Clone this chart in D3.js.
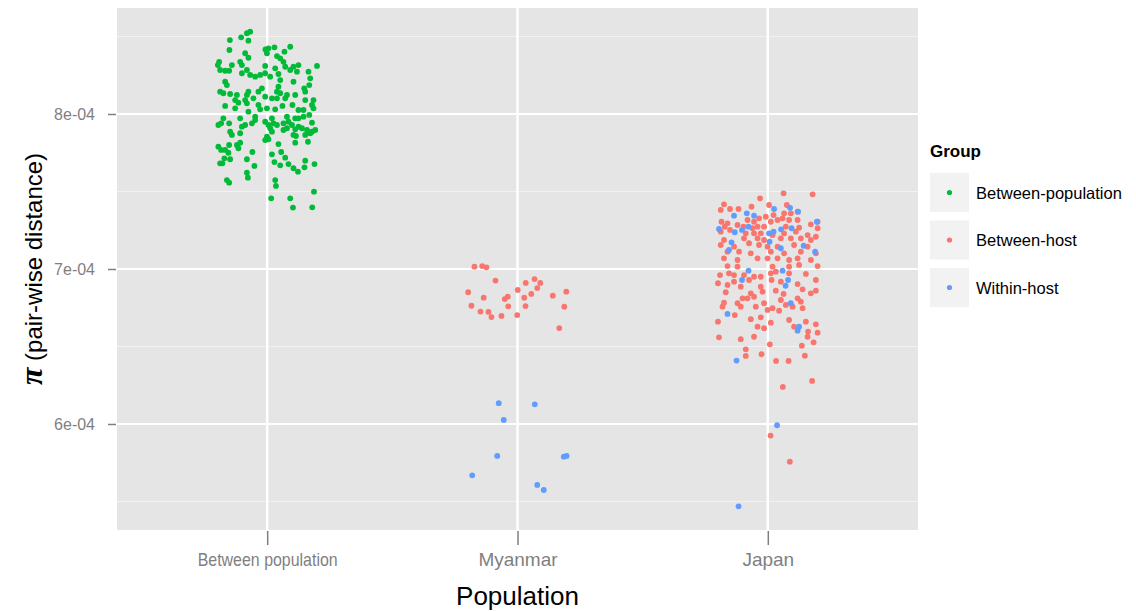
<!DOCTYPE html>
<html>
<head>
<meta charset="utf-8">
<script src="https://cdn.jsdelivr.net/npm/d3@7/dist/d3.min.js"></script>
<style>
  html, body { margin: 0; padding: 0; background: #ffffff; }
  svg { display: block; }
</style>
</head>
<body>
<svg id="chart" width="1136" height="611"></svg>
<script>
// Population categories on the x axis and the colour groups
const populations = ["Between population", "Myanmar", "Japan"];
const groups = ["Between-population", "Between-host", "Within-host"];
const groupColors = ["#00BA38", "#F8766D", "#619CFF"];
const yTicks = [6e-4, 7e-4, 8e-4];
const yTickLabels = ["6e-04", "7e-04", "8e-04"];

// Pair-wise distance (pi) in units of 1e-6, with the horizontal jitter of each point (category units)
const betweenPopPi = [
  853.1, 852.1, 849.5, 847.7, 847.3, 841.3, 839.2, 836.3, 841.7, 842.4, 843.0, 843.4, 840.2, 839.2, 837.4, 835.9,
  833.7, 833.7, 831.6, 831.6, 833.7, 831.6, 828.4, 827.9, 827.9, 828.4, 831.0, 829.5, 830.5, 830.5, 831.6, 831.0,
  828.4, 827.3, 827.3, 826.3, 825.2, 824.1, 825.2, 826.3, 825.8, 821.9, 824.1, 820.8, 818.7, 820.8, 823.0, 818.7,
  816.6, 814.4, 813.4, 812.9, 812.3, 814.4, 812.3, 814.4, 816.6, 817.6, 814.4, 813.4, 812.3, 812.3, 814.4, 809.0,
  807.3, 809.0, 806.9, 810.1, 811.2, 810.1, 810.1, 810.1, 809.0, 809.0, 805.2, 803.7, 805.8, 803.0, 803.7, 803.0,
  805.2, 805.8, 802.6, 802.6, 805.8, 803.7, 801.5, 797.2, 797.2, 798.3, 797.2, 798.3, 797.2, 798.3,
  794.0, 792.9, 794.0, 792.9, 791.8, 794.0, 796.1, 795.0, 792.9, 794.0, 792.9, 794.0, 795.0, 792.9, 791.8, 794.4,
  797.2, 799.4, 788.6, 786.5, 787.6, 790.8, 788.6, 789.7, 790.8, 790.1, 790.8, 789.7, 788.6, 789.7, 786.5, 785.8,
  786.5, 787.6, 785.4, 783.7, 783.2, 781.5, 780.0, 780.0, 778.9, 776.8, 776.8, 777.9, 775.0, 781.5, 782.1, 780.6,
  775.5, 774.0, 775.5, 771.8, 771.4, 770.8, 770.8, 768.2, 768.2, 769.0, 766.9, 767.7, 769.9, 767.7, 766.5, 765.0,
  765.6, 762.8, 762.1, 758.9, 757.4, 755.7, 757.4, 753.6, 749.9, 745.6, 745.6, 739.6, 739.8
];
const betweenPopJitter = [
  -0.068, -0.081, -0.104, -0.149, -0.075, -0.151, -0.088, -0.075, -0.007, 0.005, 0.029, 0.092, 0.069, -0.001, 0.039, 0.052,
  0.065, -0.192, -0.197, -0.141, -0.108, -0.101, -0.188, -0.168, -0.152, -0.081, -0.008, 0.032, 0.072, 0.105, 0.125, 0.199,
  0.092, 0.119, 0.165, -0.101, -0.068, -0.048, -0.028, -0.008, 0.045, 0.052, 0.012, -0.168, -0.161, 0.105, 0.172, 0.168,
  0.148, -0.188, -0.175, -0.148, -0.121, -0.075, -0.081, -0.035, -0.021, 0.045, 0.039, 0.052, 0.079, 0.112, 0.152, -0.128,
  -0.115, -0.088, -0.081, -0.055, -0.008, 0.019, 0.039, 0.072, 0.152, 0.185, -0.168, -0.128, -0.035, -0.028, -0.001, 0.032,
  0.061, 0.101, 0.125, 0.145, 0.179, 0.185, -0.075, -0.175, -0.108, -0.048, 0.019, 0.079, 0.112, 0.145,
  -0.184, -0.195, -0.152, -0.088, -0.101, -0.061, -0.048, -0.008, 0.005, 0.025, 0.039, 0.065, 0.085, 0.099, 0.125, 0.179,
  0.125, 0.168, -0.148, -0.141, -0.108, 0.012, 0.019, 0.065, 0.079, 0.112, 0.139, 0.159, 0.179, 0.192, 0.105, 0.115,
  0.152, 0.172, -0.001, 0.005, -0.008, -0.108, -0.121, -0.152, -0.195, -0.184, -0.168, -0.115, -0.155, 0.112, 0.163, 0.045,
  -0.059, 0.019, 0.056, 0.072, -0.171, -0.148, -0.081, -0.188, -0.179, 0.029, 0.052, 0.085, 0.152, 0.189, -0.051, 0.105,
  0.149, 0.123, -0.081, -0.077, -0.161, -0.152, 0.032, 0.035, 0.187, 0.016, 0.092, 0.103, 0.180
];

const myanmarHostPi = [
  701.5, 701.9, 701.1, 692.5, 685.0, 681.5, 676.3, 672.5, 672.3, 669.0, 669.7, 680.6, 682.1, 675.9,
  686.5, 670.3, 681.5, 676.1, 691.0, 683.9, 693.5, 687.7, 691.0, 682.8, 685.4, 675.7, 661.9
];
const myanmarHostJitter = [
  -0.172, -0.141, -0.124, -0.088, -0.197, -0.135, -0.184, -0.148, -0.116, -0.104, -0.064, -0.051, -0.039, -0.037,
  0.001, -0.001, 0.027, 0.032, 0.033, 0.055, 0.068, 0.079, 0.091, 0.141, 0.195, 0.187, 0.167
];
const myanmarWithinPi = [613.4, 602.6, 612.7, 579.4, 566.9, 578.9, 579.4, 560.7, 557.4];
const myanmarWithinJitter = [-0.075, -0.055, 0.069, -0.081, -0.181, 0.185, 0.196, 0.079, 0.105];

const japanHostPi = [
  748.8, 748.2, 745.6, 741.3, 741.3, 741.7, 738.1, 738.7, 738.7, 740.2, 734.8, 737.0, 735.9, 735.9, 732.7, 733.7,
  732.7, 730.5, 731.6, 730.5, 731.6, 731.6, 731.6, 730.5, 728.8, 730.5, 729.5, 727.3, 728.4, 727.3, 726.3, 727.3,
  727.3, 727.3, 726.6, 726.3, 724.1, 725.2, 723.0, 723.0, 723.0, 721.9, 723.0, 724.1, 721.9, 720.8, 718.7, 719.8,
  719.8, 718.7, 719.8, 719.8, 719.8, 718.7, 715.5, 714.4, 716.6, 715.5, 714.4, 714.4, 715.5, 714.4, 711.2, 711.2,
  710.1, 711.2, 710.1, 711.2, 710.1, 706.9, 705.8, 706.9, 706.9, 706.9, 705.8, 706.9, 705.8,
  701.9, 701.5, 701.5, 701.5, 702.6, 701.9, 696.1, 697.2, 696.1, 696.1, 695.0, 695.0, 697.2, 698.3, 697.2, 696.8,
  692.9, 690.8, 689.7, 691.8, 692.9, 688.6, 688.6, 692.9, 691.8, 690.3, 686.9, 686.0, 685.0, 684.3, 685.4, 686.0,
  683.9, 684.3, 681.1, 681.1, 682.1, 680.0, 681.1, 678.3, 677.9, 677.9, 676.8, 678.9, 675.7, 675.7, 675.7, 673.6,
  674.7, 673.1, 675.7, 674.7, 670.3, 667.6, 668.8, 665.4, 667.1, 666.0, 666.0, 662.8, 661.8, 662.8, 664.3, 659.6,
  658.9, 656.3, 655.9, 654.7, 656.3, 651.4, 650.5, 652.7, 648.2, 643.9, 645.0, 640.7, 640.7, 644.1, 627.8, 623.9,
  592.5, 575.7
];
const japanHostJitter = [
  0.063, 0.179, -0.031, 0.076, 0.005, -0.175, -0.188, -0.151, -0.117, -0.065, 0.023, 0.119, 0.065, 0.092, 0.059, -0.008,
  -0.035, -0.055, -0.081, 0.012, 0.039, 0.085, 0.119, 0.199, 0.172, -0.185, -0.161, -0.172, -0.121, -0.097, -0.061, -0.041,
  -0.015, 0.072, 0.125, 0.199, -0.188, -0.151, -0.088, -0.055, -0.028, 0.019, 0.065, 0.112, 0.159, 0.192, -0.175, -0.095,
  -0.041, -0.015, 0.052, 0.092, 0.132, 0.172, -0.188, -0.135, -0.075, -0.035, -0.001, 0.039, 0.105, 0.159, -0.161, -0.115,
  -0.068, 0.012, 0.065, 0.132, 0.192, -0.175, -0.121, -0.041, -0.001, 0.039, 0.085, 0.119, 0.172,
  -0.161, -0.121, 0.019, 0.085, 0.125, 0.199, -0.191, -0.155, -0.135, -0.095, -0.055, -0.028, 0.012, 0.032, 0.085, 0.152,
  0.192, -0.199, -0.161, -0.135, -0.075, -0.108, -0.028, 0.015, 0.052, 0.119, 0.139, 0.192, -0.168, -0.068, -0.021, 0.032,
  0.063, 0.172, -0.101, -0.081, -0.055, 0.052, 0.119, -0.175, -0.121, -0.015, 0.072, 0.132, -0.181, -0.108, -0.048, -0.001,
  0.019, 0.045, 0.099, 0.139, -0.132, -0.068, -0.028, 0.012, 0.085, 0.152, -0.199, -0.041, -0.015, 0.105, 0.192, 0.161,
  0.199, -0.055, -0.195, -0.108, 0.159, 0.008, 0.136, 0.183, -0.088, -0.088, -0.025, 0.033, 0.083, 0.148, 0.177, 0.060,
  0.011, 0.088
];
const japanWithinPi = [
  738.7, 739.5, 737.0, 734.4, 735.9, 734.4, 725.8, 723.7, 725.2, 727.3, 723.0, 724.1, 725.6, 726.3, 730.5, 717.2,
  717.6, 715.0, 711.2, 713.4, 712.3, 698.9, 698.9, 692.9, 692.9, 689.2, 677.9, 671.0, 662.8, 660.2, 640.9, 599.2, 546.9
];
const japanWithinJitter = [
  0.025, 0.089, 0.121, -0.135, -0.084, -0.055, -0.195, -0.132, -0.103, -0.077, 0.005, 0.023, 0.053, 0.095, 0.196, -0.145,
  0.007, 0.143, 0.189, 0.052, -0.155, -0.077, 0.059, -0.103, 0.081, 0.071, 0.092, -0.161, 0.125, 0.119, -0.125, 0.037, -0.117
];

// Rows for drawing: population, group, pi value, jitter
function rows(pop, group, piE6, jitter) {
  return piE6.map((v, i) => ({ pop, group, pi: v * 1e-6, jitter: jitter[i] }));
}
const points = [].concat(
  rows(populations[0], groups[0], betweenPopPi, betweenPopJitter),
  rows(populations[1], groups[1], myanmarHostPi, myanmarHostJitter),
  rows(populations[1], groups[2], myanmarWithinPi, myanmarWithinJitter),
  rows(populations[2], groups[1], japanHostPi, japanHostJitter),
  rows(populations[2], groups[2], japanWithinPi, japanWithinJitter)
);

const svg = d3.select("#chart");
const panel = { left: 117, right: 918, top: 8, bottom: 530 };
const sans = "'Liberation Sans', Arial, Helvetica, sans-serif";

const x = d3.scalePoint().domain(populations)
  .range([panel.left, panel.right]).padding(0.6);
const y = d3.scaleLinear().domain([5.316e-4, 8.684e-4])
  .range([panel.bottom, panel.top]);
const color = d3.scaleOrdinal().domain(groups).range(groupColors);

// Panel background
svg.append("rect")
  .attr("x", panel.left).attr("y", panel.top)
  .attr("width", panel.right - panel.left).attr("height", panel.bottom - panel.top)
  .attr("fill", "#E5E5E5");

// Minor grid lines halfway between the major ticks
const minorTicks = [5.5e-4, 6.5e-4, 7.5e-4, 8.5e-4];
svg.append("g").selectAll("line").data(minorTicks).join("line")
  .attr("x1", panel.left).attr("x2", panel.right)
  .attr("y1", d => y(d)).attr("y2", d => y(d))
  .attr("stroke", "#F2F2F2").attr("stroke-width", 1);

// Major grid lines
svg.append("g").selectAll("line").data(yTicks).join("line")
  .attr("x1", panel.left).attr("x2", panel.right)
  .attr("y1", d => y(d)).attr("y2", d => y(d))
  .attr("stroke", "#ffffff").attr("stroke-width", 2);
svg.append("g").selectAll("line").data(populations).join("line")
  .attr("x1", d => x(d)).attr("x2", d => x(d))
  .attr("y1", panel.top).attr("y2", panel.bottom)
  .attr("stroke", "#ffffff").attr("stroke-width", 2.5);

// Jittered points
const step = x.step();
svg.append("g").selectAll("circle").data(points).join("circle")
  .attr("cx", d => x(d.pop) + d.jitter * step)
  .attr("cy", d => y(d.pi))
  .attr("r", 2.9)
  .attr("fill", d => color(d.group));

// Axes
const yAxis = d3.axisLeft(y).tickValues(yTicks).tickFormat((d, i) => yTickLabels[i])
  .tickSize(8).tickPadding(13);
const gy = svg.append("g").attr("transform", `translate(${panel.left - 1},0)`).call(yAxis);
gy.select(".domain").remove();
gy.selectAll(".tick line").attr("stroke", "#7F7F7F").attr("stroke-width", 1.5);
gy.selectAll(".tick text").attr("fill", "#7F7F7F")
  .style("font-family", sans).style("font-size", "16px");

const xAxis = d3.axisBottom(x).tickSize(14).tickPadding(8);
const gx = svg.append("g").attr("transform", `translate(0,${panel.bottom + 1})`).call(xAxis);
gx.select(".domain").remove();
gx.selectAll(".tick line").attr("stroke", "#7F7F7F").attr("stroke-width", 1.5);
// Long tick labels are condensed to fit within the maximum label width
const maxLabelWidth = 140;
gx.selectAll(".tick text").attr("fill", "#7F7F7F")
  .style("font-family", sans).style("font-size", "19px")
  .each(function () {
    if (this.getComputedTextLength() > maxLabelWidth) {
      d3.select(this).attr("textLength", maxLabelWidth).attr("lengthAdjust", "spacingAndGlyphs");
    }
  });

// Axis titles
svg.append("text")
  .attr("x", (panel.left + panel.right) / 2).attr("y", 605)
  .attr("text-anchor", "middle")
  .style("font-family", sans).style("font-size", "26px")
  .attr("fill", "#000")
  .text("Population");

const yTitle = svg.append("text")
  .attr("transform", `translate(42,${(panel.top + panel.bottom) / 2}) rotate(-90)`)
  .attr("text-anchor", "middle")
  .style("font-family", sans).style("font-size", "24px")
  .attr("fill", "#000");
yTitle.append("tspan").style("font-family", "'Liberation Serif', serif").style("font-size", "32px")
  .style("font-style", "italic").style("font-weight", "bold").text("π");
yTitle.append("tspan").text(" (pair-wise distance)");

// Legend
const legend = svg.append("g").attr("transform", "translate(930,0)");
legend.append("text").attr("x", 0).attr("y", 157)
  .style("font-family", sans).style("font-size", "17px")
  .style("font-weight", "bold").text("Group");
const items = legend.selectAll("g.item").data(groups).join("g")
  .attr("class", "item")
  .attr("transform", (d, i) => `translate(0,${173 + i * 47.5})`);
items.append("rect").attr("width", 39).attr("height", 39).attr("fill", "#F2F2F2");
items.append("circle").attr("cx", 19.5).attr("cy", 19.5).attr("r", 2.6).attr("fill", d => color(d));
items.append("text").attr("x", 46).attr("y", 25.5)
  .style("font-family", sans).style("font-size", "16.5px")
  .text(d => d);
</script>
</body>
</html>
